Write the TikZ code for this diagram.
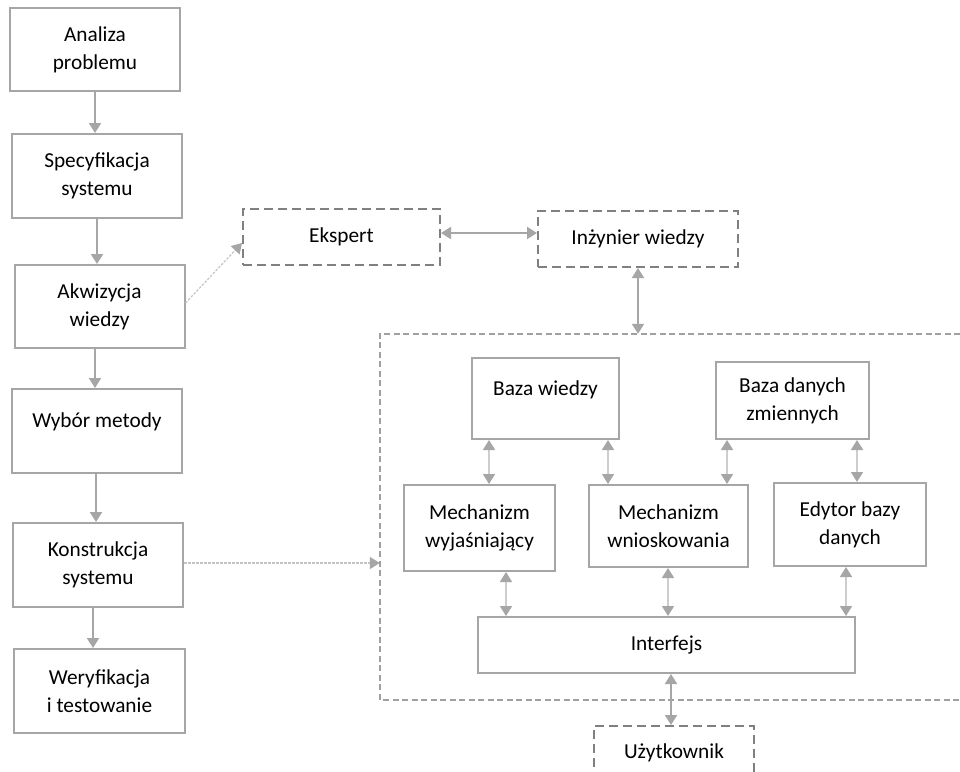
\documentclass[tikz,border=0pt]{standalone}
\usepackage{fontspec}
\setmainfont{Carlito}
\usetikzlibrary{arrows.meta,calc}
\definecolor{boxgray}{HTML}{A6A6A6}
\definecolor{dashgray}{HTML}{808080}
\definecolor{linelight}{HTML}{CDCDCD}
\definecolor{dotgray}{HTML}{C4C4C4}
\definecolor{framegray}{HTML}{A0A0A0}
\begin{document}
\begin{tikzpicture}[x=1pt,y=-1pt,
  font=\fontsize{21.3}{28}\selectfont,
  >={Triangle[width=12pt,length=10pt,color=boxgray]},
  solidbox/.style={draw=boxgray,line width=2pt,align=center,inner sep=0pt},
  dashbox/.style={draw=dashgray,line width=2pt,dash pattern=on 9pt off 5pt,align=center,inner sep=0pt},
  coredash/.style={draw=framegray,line width=1.5pt,dash pattern=on 6pt off 3.5pt},
  conn/.style={draw=boxgray,line width=2pt},
  lightconn/.style={draw=linelight,line width=1.6pt},
  dotconn/.style={draw=dotgray,line width=1.2pt,dash pattern=on 2.5pt off 1.5pt},
  up9/.style={}]
\useasboundingbox (0,0) rectangle (960,771);
\clip (0,0) rectangle (960,771);
\fill[white] (0,0) rectangle (960,771);

% left column
\node[solidbox,minimum width=170pt,minimum height=83pt] (A1) at (95,49.5) {Analiza\\problemu};
\node[solidbox,minimum width=170pt,minimum height=84pt] (A2) at (97,176) {Specyfikacja\\systemu};
\node[solidbox,minimum width=170pt,minimum height=83pt] (A3) at (99.5,306.5) {Akwizycja\\wiedzy};
\node[solidbox,minimum width=170pt,minimum height=84pt] (A4) at (97,431) {\raisebox{9pt}[\height][\depth]{Wybór metody}};
\node[solidbox,minimum width=170pt,minimum height=84pt] (A5) at (98,565) {Konstrukcja\\systemu};
\node[solidbox,minimum width=171pt,minimum height=84pt] (A6) at (99.5,691) {Weryfikacja\\i testowanie};

\draw[conn,->] (A1.south) -- (A1.south |- A2.north);
\draw[conn,->] (A2.south) -- (A2.south |- A3.north);
\draw[conn,->] (95,0 |- A3.south) -- (95,0 |- A4.north);
\draw[conn,->] (96,0 |- A4.south) -- (96,0 |- A5.north);
\draw[conn,->] (93,0 |- A5.south) -- (93,0 |- A6.north);

% expert and engineer
\node[dashbox,minimum width=197pt,minimum height=56pt] (Ek) at (341.5,237) {Ekspert};
\node[dashbox,minimum width=200pt,minimum height=56pt] (Inz) at (638,239) {Inżynier wiedzy};
\draw[conn,<->] (Ek.east |- 0,233) -- (Inz.west |- 0,233);
\draw[dotconn,->] (A3.east |- 0,303) -- (Ek.west |- 0,243);

% core frame
\node[minimum width=580pt,minimum height=366pt,inner sep=0pt] (core) at (670,517) {};
\draw[coredash] (core.north east) -- (core.north west) -- (core.south west) -- (core.south east);
\draw[conn,<->] (Inz.south) -- (Inz.south |- core.north);
\draw[dotconn,->] (A5.east |- 0,563) -- (core.west |- 0,563);

% inner boxes
\node[solidbox,minimum width=147pt,minimum height=81pt] (BW) at (545.5,398.5) {\raisebox{9pt}[\height][\depth]{Baza wiedzy}};
\node[solidbox,minimum width=153pt,minimum height=77pt] (BD) at (792.5,400.5) {Baza danych\\zmiennych};
\node[solidbox,minimum width=151pt,minimum height=86pt] (MW) at (479.5,528) {Mechanizm\\wyjaśniający};
\node[solidbox,minimum width=159pt,minimum height=82pt] (MN) at (668.5,526) {Mechanizm\\wnioskowania};
\node[solidbox,minimum width=152pt,minimum height=83pt] (ED) at (850,524.5) {Edytor bazy\\danych};
\node[solidbox,minimum width=377pt,minimum height=56pt] (IF) at (666.5,645) {Interfejs};

\draw[lightconn,<->] (489,0 |- BW.south) -- (489,0 |- MW.north);
\draw[lightconn,<->] (608,0 |- BW.south) -- (608,0 |- MN.north);
\draw[lightconn,<->] (727,0 |- BD.south) -- (727,0 |- MN.north);
\draw[lightconn,<->] (857,0 |- BD.south) -- (857,0 |- ED.north);
\draw[lightconn,<->] (506,0 |- MW.south) -- (506,0 |- IF.north);
\draw[lightconn,<->] (668,0 |- MN.south) -- (668,0 |- IF.north);
\draw[lightconn,<->] (846,0 |- ED.south) -- (846,0 |- IF.north);

% user
\node[dashbox,minimum width=160pt,minimum height=54pt] (user) at (674,753) {Użytkownik};
\draw[conn,<->] (671,0 |- IF.south) -- (671,0 |- user.north);
\end{tikzpicture}
\end{document}
